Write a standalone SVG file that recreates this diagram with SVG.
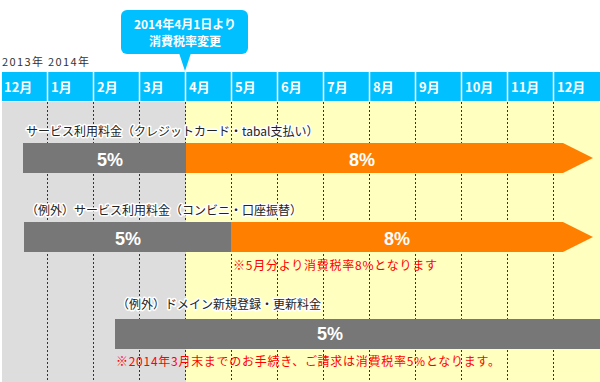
<svg xmlns="http://www.w3.org/2000/svg" width="600" height="382" viewBox="0 0 600 382">
<style>
text{font-family:"Noto Sans CJK JP","Liberation Sans",sans-serif}
.mon{font-size:13px;font-weight:bold;fill:#fff}
.lbl{font-size:12px;fill:#222;stroke:#fff;stroke-width:3;stroke-linejoin:round;paint-order:stroke}
.pct{font-size:18px;font-weight:bold;fill:#fff;text-anchor:middle;font-family:"Liberation Sans","DejaVu Sans",sans-serif}
.note{font-size:12px;fill:#ff0000}
.grid{stroke:#333;stroke-width:1;stroke-dasharray:2,2}
.gray{fill:#777777}
.orange{fill:#ff8000}
</style>
<rect x="0" y="0" width="600" height="382" fill="#fff"/>
<g id="background">
<rect x="2" y="102" width="184" height="280" fill="#dddddd"/>
<rect x="186" y="102" width="414" height="280" fill="#ffffc0"/>
</g>
<g id="grid">
<line class="grid" x1="47.5" y1="102" x2="47.5" y2="382"/>
<line class="grid" x1="93.5" y1="102" x2="93.5" y2="382"/>
<line class="grid" x1="139.5" y1="102" x2="139.5" y2="382"/>
<line class="grid" x1="185.5" y1="102" x2="185.5" y2="382"/>
<line class="grid" x1="231.5" y1="102" x2="231.5" y2="382"/>
<line class="grid" x1="277.5" y1="102" x2="277.5" y2="382"/>
<line class="grid" x1="323.5" y1="102" x2="323.5" y2="382"/>
<line class="grid" x1="369.5" y1="102" x2="369.5" y2="382"/>
<line class="grid" x1="415.5" y1="102" x2="415.5" y2="382"/>
<line class="grid" x1="461.5" y1="102" x2="461.5" y2="382"/>
<line class="grid" x1="507.5" y1="102" x2="507.5" y2="382"/>
<line class="grid" x1="553.5" y1="102" x2="553.5" y2="382"/>
</g>
<g id="header">
<rect x="2" y="72" width="598" height="29" fill="#00c0ff"/>
<g stroke="#fff" stroke-width="1.5">
<line x1="47.5" y1="72" x2="47.5" y2="101"/>
<line x1="93.5" y1="72" x2="93.5" y2="101"/>
<line x1="139.5" y1="72" x2="139.5" y2="101"/>
<line x1="185.5" y1="72" x2="185.5" y2="101"/>
<line x1="231.5" y1="72" x2="231.5" y2="101"/>
<line x1="277.5" y1="72" x2="277.5" y2="101"/>
<line x1="323.5" y1="72" x2="323.5" y2="101"/>
<line x1="369.5" y1="72" x2="369.5" y2="101"/>
<line x1="415.5" y1="72" x2="415.5" y2="101"/>
<line x1="461.5" y1="72" x2="461.5" y2="101"/>
<line x1="507.5" y1="72" x2="507.5" y2="101"/>
<line x1="553.5" y1="72" x2="553.5" y2="101"/>
</g>
<text class="mon" x="4" y="92">12月</text>
<text class="mon" x="51" y="92">1月</text>
<text class="mon" x="97" y="92">2月</text>
<text class="mon" x="143" y="92">3月</text>
<text class="mon" x="189" y="92">4月</text>
<text class="mon" x="235" y="92">5月</text>
<text class="mon" x="281" y="92">6月</text>
<text class="mon" x="327" y="92">7月</text>
<text class="mon" x="373" y="92">8月</text>
<text class="mon" x="419" y="92">9月</text>
<text class="mon" x="465" y="92">10月</text>
<text class="mon" x="511" y="92">11月</text>
<text class="mon" x="557" y="92">12月</text>
<text x="2" y="66" font-size="11" fill="#333" textLength="87" lengthAdjust="spacing">2013年 2014年</text>
</g>
<g id="callout">
<rect x="121" y="10" width="127" height="44" rx="6" fill="#00c0ff"/>
<polygon points="179,53 191,53 185,71" fill="#00c0ff"/>
<text x="185" y="29" font-size="12" font-weight="bold" fill="#fff" text-anchor="middle">2014年4月1日より</text>
<text x="185" y="46" font-size="12" font-weight="bold" fill="#fff" text-anchor="middle">消費税率変更</text>
</g>
<g id="row1">
<text class="lbl" x="26" y="136">サービス利用料金（クレジットカード・tabal支払い）</text>
<rect class="gray" x="23" y="143" width="163" height="30"/>
<polygon class="orange" points="186,143 563,143 593,158 563,173 186,173"/>
<text class="pct" x="110" y="166">5%</text>
<text class="pct" x="362" y="166">8%</text>
</g>
<g id="row2">
<text class="lbl" x="26" y="215">（例外）サービス利用料金（コンビニ・口座振替）</text>
<rect class="gray" x="24" y="222" width="207" height="30"/>
<polygon class="orange" points="231,222 563,222 593,237 563,252 231,252"/>
<text class="pct" x="128" y="245">5%</text>
<text class="pct" x="397" y="245">8%</text>
<text class="note" x="233" y="270" textLength="204" lengthAdjust="spacing">※5月分より消費税率8%となります</text>
</g>
<g id="row3">
<text class="lbl" x="117" y="309">（例外）ドメイン新規登録・更新料金</text>
<rect class="gray" x="115" y="319" width="485" height="30"/>
<text class="pct" x="330" y="340">5%</text>
<text class="note" x="116" y="366" textLength="384" lengthAdjust="spacing">※2014年3月末までのお手続き、ご請求は消費税率5%となります。</text>
</g>
</svg>
